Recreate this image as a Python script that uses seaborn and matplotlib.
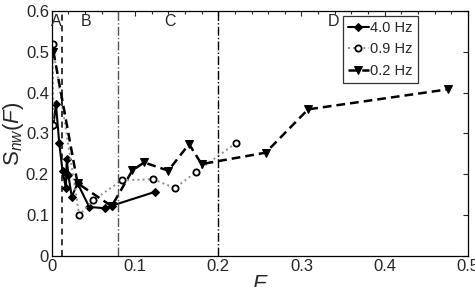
import numpy as np
import pandas as pd
import matplotlib
matplotlib.use('Agg')
import matplotlib.pyplot as plt
import seaborn as sns
from matplotlib.ticker import MultipleLocator

# =========== DATA ====================================
f_40 = [0.002, 0.005, 0.009, 0.013, 0.017, 0.018, 0.020, 0.024, 0.031, 0.045, 0.064, 0.072, 0.124]
s_40 = [0.320, 0.372, 0.276, 0.207, 0.166, 0.237, 0.198, 0.145, 0.178, 0.120, 0.117, 0.123, 0.157]

f_09 = [0.002, 0.001, 0.033, 0.050, 0.084, 0.122, 0.148, 0.173, 0.221]
s_09 = [0.320, 0.518, 0.100, 0.137, 0.185, 0.188, 0.166, 0.205, 0.276]

f_02 = [0.002, 0.031, 0.072, 0.097, 0.111, 0.140, 0.165, 0.180, 0.257, 0.308, 0.476]
s_02 = [0.500, 0.178, 0.122, 0.210, 0.229, 0.209, 0.274, 0.225, 0.253, 0.359, 0.408]

series_names = ['4.0 Hz', '0.9 Hz', '0.2 Hz']
regime_bounds = [0.012, 0.08, 0.2]
regime_labels = ['A', 'B', 'C', 'D']
regime_label_x = [0.006, 0.041, 0.142, 0.338]

x_ticks = [0, 0.1, 0.2, 0.3, 0.4, 0.5]
x_ticklabels = ['0', '0.1', '0.2', '0.3', '0.4', '0.5']
y_ticks = [0, 0.1, 0.2, 0.3, 0.4, 0.5, 0.6]
y_ticklabels = ['0', '0.1', '0.2', '0.3', '0.4', '0.5', '0.6']

# =============== PLOT ====================
sns.set_style('white')
plt.rcParams['font.family'] = ['Liberation Sans', 'DejaVu Sans']
plt.rcParams['mathtext.fontset'] = 'custom'
plt.rcParams['mathtext.rm'] = 'Liberation Sans'
plt.rcParams['mathtext.it'] = 'Liberation Sans:italic'

fig = plt.figure(figsize=(4.75, 2.87), dpi=100)
ax = fig.add_axes([0.109, 0.108, 0.876, 0.854])

styles = [
    dict(color='black', linestyle='-', linewidth=1.5, marker='D', markersize=4,
         markerfacecolor='black', markeredgecolor='black'),
    dict(color='#909090', linestyle=':', linewidth=1.4, marker='o', markersize=4.5,
         markerfacecolor='white', markeredgecolor='black', markeredgewidth=1.3),
    dict(color='black', linestyle=(0, (3.5, 2)), linewidth=1.8, marker='v', markersize=5.5,
         markerfacecolor='black', markeredgecolor='black'),
]

for name, fx, sy, st in zip(series_names, [f_40, f_09, f_02], [s_40, s_09, s_02], styles):
    df = pd.DataFrame({'F': fx, 'S': sy})
    sns.lineplot(data=df, x='F', y='S', sort=False, ax=ax, label=name, **st)

# regime boundaries
ax.axvline(regime_bounds[0], color='black', linestyle=(0, (4, 3)), linewidth=1.1)
ax.axvline(regime_bounds[1], color='#555555', linestyle='-.', linewidth=1.0)
ax.axvline(regime_bounds[2], color='black', linestyle='-.', linewidth=1.0)

for lab, xl in zip(regime_labels, regime_label_x):
    ax.text(xl, 0.575, lab, ha='center', va='center', fontsize=11.5)

ax.set_xlim(0, 0.5)
ax.set_ylim(0, 0.6)
ax.set_xticks(x_ticks)
ax.set_xticklabels(x_ticklabels)
ax.xaxis.set_minor_locator(MultipleLocator(0.02))
ax.set_yticks(y_ticks)
ax.set_yticklabels(y_ticklabels)
ax.tick_params(which='both', direction='in', top=True, right=True, labelsize=12, pad=2)
ax.tick_params(which='major', length=3.5, width=0.8)
ax.tick_params(which='minor', length=2, width=0.8)
for sp in ax.spines.values():
    sp.set_color('black')
    sp.set_linewidth(0.9)

ax.set_xlabel('$F$', fontsize=16, labelpad=0)
ax.set_ylabel(r'S$_{\it{nw}}$($F$)', fontsize=16, labelpad=0)

leg = ax.legend(loc='upper right', bbox_to_anchor=(0.89, 0.997), fontsize=10.5,
                frameon=True, fancybox=False, edgecolor='black', handlelength=1.4,
                handletextpad=0.1, borderpad=0.35, labelspacing=0.5, borderaxespad=0.3)
leg.get_frame().set_linewidth(0.9)

fig.savefig('out.png', dpi=100)
